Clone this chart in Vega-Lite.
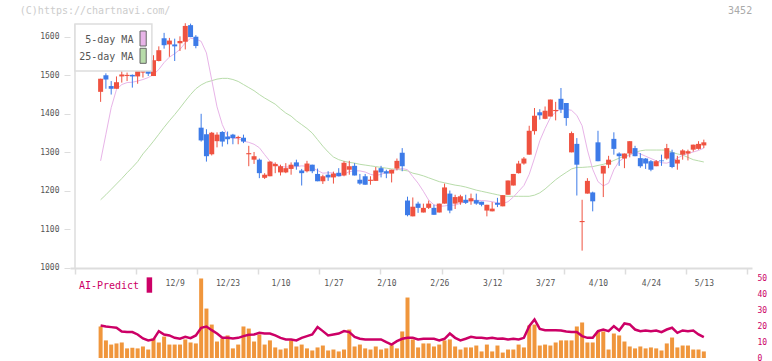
{
"$schema":"https://vega.github.io/schema/vega-lite/v6.json",
"autosize":"none",
"padding":{"left":70,"top":24,"right":20,"bottom":3},
"width":682,"height":334,
"background":"white",
"config":{"view":{"stroke":null},"font":"DejaVu Sans Mono","axis":{"labelFont":"DejaVu Sans Mono","title":null,"grid":false}},
"datasets":{"d":[
{"i":0,"o":1457,"h":1491,"l":1431,"c":1491,"m5":1278,"m25":1177,"v":19.7,"ai":20.3},
{"i":1,"o":1500,"h":1505,"l":1465,"c":1489,"m5":1347,"m25":1190,"v":11.0,"ai":19.7},
{"i":2,"o":1472,"h":1485,"l":1450,"c":1465,"m5":1416,"m25":1204,"v":8.4,"ai":19.3},
{"i":3,"o":1465,"h":1497,"l":1465,"c":1482,"m5":1463,"m25":1218,"v":9.1,"ai":18.9},
{"i":4,"o":1497,"h":1519,"l":1481,"c":1502,"m5":1476,"m25":1232,"v":9.7,"ai":16.6},
{"i":5,"o":1498,"h":1507,"l":1485,"c":1501,"m5":1481,"m25":1247,"v":6.0,"ai":16.2},
{"i":6,"o":1501,"h":1502,"l":1468,"c":1497,"m5":1482,"m25":1261,"v":6.4,"ai":16.2},
{"i":7,"o":1497,"h":1519,"l":1478,"c":1511,"m5":1485,"m25":1276,"v":6.0,"ai":14.7},
{"i":8,"o":1507,"h":1530,"l":1494,"c":1518,"m5":1489,"m25":1296,"v":7.2,"ai":12.2},
{"i":9,"o":1515,"h":1523,"l":1498,"c":1504,"m5":1494,"m25":1312,"v":5.3,"ai":11.0},
{"i":10,"o":1498,"h":1552,"l":1498,"c":1539,"m5":1502,"m25":1329,"v":12.2,"ai":11.6},
{"i":11,"o":1537,"h":1575,"l":1536,"c":1565,"m5":1515,"m25":1347,"v":9.7,"ai":16.8},
{"i":12,"o":1596,"h":1610,"l":1569,"c":1578,"m5":1533,"m25":1365,"v":13.4,"ai":14.7},
{"i":13,"o":1580,"h":1597,"l":1548,"c":1590,"m5":1547,"m25":1382,"v":8.4,"ai":14.1},
{"i":14,"o":1580,"h":1595,"l":1537,"c":1575,"m5":1556,"m25":1398,"v":8.4,"ai":12.6},
{"i":15,"o":1583,"h":1601,"l":1563,"c":1589,"m5":1567,"m25":1415,"v":8.4,"ai":12.0},
{"i":16,"o":1587,"h":1635,"l":1567,"c":1628,"m5":1584,"m25":1433,"v":11.6,"ai":13.2},
{"i":17,"o":1630,"h":1634,"l":1599,"c":1599,"m5":1596,"m25":1450,"v":9.7,"ai":12.4},
{"i":18,"o":1600,"h":1604,"l":1570,"c":1576,"m5":1594,"m25":1465,"v":9.1,"ai":14.1},
{"i":19,"o":1364,"h":1400,"l":1328,"c":1331,"m5":1588,"m25":1475,"v":49.7,"ai":18.9},
{"i":20,"o":1347,"h":1360,"l":1276,"c":1290,"m5":1558,"m25":1482,"v":30.9,"ai":19.7},
{"i":21,"o":1295,"h":1353,"l":1292,"c":1351,"m5":1488,"m25":1486,"v":20.9,"ai":17.4},
{"i":22,"o":1329,"h":1352,"l":1313,"c":1346,"m5":1418,"m25":1490,"v":10.3,"ai":15.3},
{"i":23,"o":1353,"h":1355,"l":1315,"c":1328,"m5":1372,"m25":1492,"v":12.2,"ai":12.6},
{"i":24,"o":1341,"h":1354,"l":1321,"c":1334,"m5":1342,"m25":1492,"v":14.1,"ai":12.6},
{"i":25,"o":1346,"h":1348,"l":1321,"c":1337,"m5":1336,"m25":1489,"v":6.0,"ai":12.2},
{"i":26,"o":1337,"h":1343,"l":1321,"c":1340,"m5":1336,"m25":1484,"v":8.4,"ai":12.6},
{"i":27,"o":1338,"h":1346,"l":1324,"c":1328,"m5":1329,"m25":1476,"v":19.7,"ai":13.7},
{"i":28,"o":1295,"h":1317,"l":1264,"c":1298,"m5":1326,"m25":1468,"v":18.4,"ai":14.5},
{"i":29,"o":1281,"h":1301,"l":1270,"c":1290,"m5":1321,"m25":1460,"v":10.3,"ai":14.7},
{"i":30,"o":1281,"h":1284,"l":1233,"c":1246,"m5":1312,"m25":1450,"v":14.7,"ai":15.7},
{"i":31,"o":1234,"h":1246,"l":1231,"c":1242,"m5":1294,"m25":1441,"v":8.4,"ai":15.3},
{"i":32,"o":1238,"h":1277,"l":1238,"c":1276,"m5":1277,"m25":1433,"v":11.0,"ai":15.3},
{"i":33,"o":1264,"h":1274,"l":1246,"c":1270,"m5":1268,"m25":1425,"v":6.6,"ai":14.1},
{"i":34,"o":1248,"h":1268,"l":1240,"c":1264,"m5":1263,"m25":1413,"v":5.3,"ai":12.6},
{"i":35,"o":1248,"h":1272,"l":1246,"c":1259,"m5":1262,"m25":1402,"v":6.0,"ai":11.6},
{"i":36,"o":1257,"h":1274,"l":1242,"c":1268,"m5":1262,"m25":1394,"v":11.0,"ai":11.6},
{"i":37,"o":1274,"h":1281,"l":1255,"c":1264,"m5":1263,"m25":1382,"v":7.2,"ai":11.0},
{"i":38,"o":1253,"h":1257,"l":1214,"c":1246,"m5":1265,"m25":1372,"v":8.4,"ai":12.6},
{"i":39,"o":1251,"h":1278,"l":1248,"c":1271,"m5":1264,"m25":1362,"v":6.0,"ai":13.7},
{"i":40,"o":1268,"h":1268,"l":1246,"c":1251,"m5":1260,"m25":1350,"v":4.7,"ai":14.7},
{"i":41,"o":1244,"h":1258,"l":1225,"c":1225,"m5":1253,"m25":1333,"v":6.6,"ai":19.3},
{"i":42,"o":1225,"h":1242,"l":1218,"c":1238,"m5":1246,"m25":1316,"v":7.8,"ai":16.8},
{"i":43,"o":1242,"h":1251,"l":1226,"c":1235,"m5":1247,"m25":1301,"v":4.7,"ai":14.1},
{"i":44,"o":1235,"h":1250,"l":1219,"c":1245,"m5":1247,"m25":1288,"v":5.3,"ai":14.7},
{"i":45,"o":1247,"h":1259,"l":1238,"c":1238,"m5":1238,"m25":1281,"v":4.1,"ai":15.3},
{"i":46,"o":1240,"h":1277,"l":1238,"c":1273,"m5":1243,"m25":1277,"v":5.3,"ai":16.8},
{"i":47,"o":1255,"h":1278,"l":1242,"c":1264,"m5":1250,"m25":1274,"v":17.8,"ai":16.2},
{"i":48,"o":1265,"h":1272,"l":1240,"c":1240,"m5":1252,"m25":1272,"v":7.2,"ai":13.2},
{"i":49,"o":1229,"h":1244,"l":1216,"c":1219,"m5":1252,"m25":1269,"v":8.4,"ai":12.0},
{"i":50,"o":1238,"h":1244,"l":1216,"c":1216,"m5":1249,"m25":1267,"v":6.0,"ai":11.6},
{"i":51,"o":1226,"h":1238,"l":1216,"c":1229,"m5":1243,"m25":1265,"v":5.3,"ai":11.6},
{"i":52,"o":1226,"h":1262,"l":1226,"c":1253,"m5":1240,"m25":1263,"v":7.2,"ai":11.6},
{"i":53,"o":1259,"h":1265,"l":1235,"c":1248,"m5":1243,"m25":1261,"v":5.3,"ai":11.6},
{"i":54,"o":1251,"h":1255,"l":1233,"c":1245,"m5":1248,"m25":1259,"v":6.0,"ai":9.9},
{"i":55,"o":1245,"h":1255,"l":1222,"c":1255,"m5":1252,"m25":1257,"v":8.0,"ai":8.4},
{"i":56,"o":1258,"h":1284,"l":1253,"c":1278,"m5":1256,"m25":1256,"v":6.0,"ai":10.5},
{"i":57,"o":1299,"h":1311,"l":1251,"c":1264,"m5":1258,"m25":1254,"v":16.6,"ai":12.0},
{"i":58,"o":1175,"h":1185,"l":1134,"c":1137,"m5":1255,"m25":1252,"v":37.8,"ai":12.6},
{"i":59,"o":1134,"h":1183,"l":1134,"c":1159,"m5":1237,"m25":1246,"v":11.6,"ai":12.6},
{"i":60,"o":1167,"h":1172,"l":1143,"c":1156,"m5":1220,"m25":1243,"v":6.6,"ai":11.6},
{"i":61,"o":1144,"h":1167,"l":1144,"c":1156,"m5":1199,"m25":1239,"v":9.1,"ai":12.0},
{"i":62,"o":1156,"h":1175,"l":1153,"c":1167,"m5":1176,"m25":1234,"v":9.1,"ai":12.0},
{"i":63,"o":1156,"h":1164,"l":1138,"c":1138,"m5":1164,"m25":1229,"v":7.2,"ai":12.0},
{"i":64,"o":1144,"h":1167,"l":1144,"c":1167,"m5":1160,"m25":1224,"v":8.4,"ai":11.0},
{"i":65,"o":1167,"h":1219,"l":1167,"c":1209,"m5":1161,"m25":1221,"v":11.0,"ai":12.0},
{"i":66,"o":1193,"h":1201,"l":1142,"c":1149,"m5":1163,"m25":1218,"v":11.6,"ai":15.3},
{"i":67,"o":1167,"h":1190,"l":1153,"c":1184,"m5":1163,"m25":1215,"v":7.2,"ai":12.6},
{"i":68,"o":1170,"h":1190,"l":1164,"c":1186,"m5":1168,"m25":1213,"v":5.3,"ai":11.0},
{"i":69,"o":1177,"h":1190,"l":1166,"c":1169,"m5":1172,"m25":1210,"v":6.6,"ai":12.0},
{"i":70,"o":1173,"h":1193,"l":1164,"c":1181,"m5":1175,"m25":1206,"v":6.6,"ai":13.2},
{"i":71,"o":1176,"h":1193,"l":1164,"c":1167,"m5":1176,"m25":1202,"v":7.8,"ai":12.6},
{"i":72,"o":1172,"h":1172,"l":1160,"c":1164,"m5":1175,"m25":1199,"v":4.1,"ai":12.6},
{"i":73,"o":1149,"h":1164,"l":1134,"c":1164,"m5":1174,"m25":1196,"v":8.4,"ai":12.2},
{"i":74,"o":1147,"h":1171,"l":1147,"c":1154,"m5":1172,"m25":1193,"v":4.1,"ai":12.6},
{"i":75,"o":1169,"h":1182,"l":1158,"c":1164,"m5":1169,"m25":1190,"v":7.8,"ai":12.0},
{"i":76,"o":1160,"h":1189,"l":1160,"c":1189,"m5":1167,"m25":1187,"v":3.4,"ai":12.2},
{"i":77,"o":1190,"h":1227,"l":1190,"c":1227,"m5":1172,"m25":1186,"v":5.3,"ai":11.6},
{"i":78,"o":1214,"h":1244,"l":1214,"c":1244,"m5":1184,"m25":1186,"v":5.3,"ai":12.0},
{"i":79,"o":1246,"h":1278,"l":1245,"c":1271,"m5":1199,"m25":1186,"v":8.4,"ai":11.6},
{"i":80,"o":1271,"h":1288,"l":1268,"c":1284,"m5":1214,"m25":1186,"v":6.6,"ai":12.6},
{"i":81,"o":1294,"h":1369,"l":1294,"c":1356,"m5":1243,"m25":1186,"v":20.3,"ai":19.9},
{"i":82,"o":1355,"h":1415,"l":1346,"c":1395,"m5":1285,"m25":1189,"v":20.9,"ai":24.1},
{"i":83,"o":1404,"h":1412,"l":1385,"c":1396,"m5":1330,"m25":1195,"v":7.8,"ai":18.2},
{"i":84,"o":1387,"h":1419,"l":1386,"c":1408,"m5":1362,"m25":1205,"v":8.4,"ai":17.4},
{"i":85,"o":1393,"h":1437,"l":1393,"c":1437,"m5":1390,"m25":1217,"v":7.8,"ai":17.4},
{"i":86,"o":1407,"h":1431,"l":1383,"c":1410,"m5":1405,"m25":1229,"v":9.7,"ai":17.4},
{"i":87,"o":1439,"h":1467,"l":1402,"c":1411,"m5":1412,"m25":1239,"v":11.0,"ai":17.2},
{"i":88,"o":1428,"h":1428,"l":1369,"c":1389,"m5":1412,"m25":1248,"v":11.0,"ai":16.6},
{"i":89,"o":1300,"h":1354,"l":1300,"c":1350,"m5":1409,"m25":1257,"v":11.0,"ai":16.2},
{"i":90,"o":1322,"h":1337,"l":1188,"c":1268,"m5":1396,"m25":1261,"v":19.7,"ai":16.2},
{"i":91,"o":1119,"h":1177,"l":1045,"c":1122,"m5":1369,"m25":1261,"v":22.2,"ai":13.7},
{"i":92,"o":1193,"h":1233,"l":1193,"c":1226,"m5":1306,"m25":1262,"v":9.7,"ai":12.6},
{"i":93,"o":1196,"h":1198,"l":1147,"c":1173,"m5":1256,"m25":1263,"v":9.7,"ai":12.6},
{"i":94,"o":1326,"h":1356,"l":1277,"c":1277,"m5":1224,"m25":1266,"v":16.6,"ai":16.8},
{"i":95,"o":1245,"h":1265,"l":1184,"c":1265,"m5":1213,"m25":1269,"v":16.6,"ai":17.8},
{"i":96,"o":1268,"h":1291,"l":1259,"c":1281,"m5":1220,"m25":1273,"v":5.3,"ai":16.8},
{"i":97,"o":1335,"h":1352,"l":1294,"c":1309,"m5":1255,"m25":1279,"v":15.3,"ai":19.9},
{"i":98,"o":1297,"h":1300,"l":1265,"c":1290,"m5":1277,"m25":1285,"v":14.1,"ai":17.2},
{"i":99,"o":1284,"h":1297,"l":1259,"c":1297,"m5":1286,"m25":1290,"v":10.3,"ai":21.6},
{"i":100,"o":1297,"h":1329,"l":1287,"c":1329,"m5":1293,"m25":1294,"v":7.2,"ai":21.0},
{"i":101,"o":1311,"h":1317,"l":1290,"c":1290,"m5":1302,"m25":1300,"v":6.0,"ai":17.8},
{"i":102,"o":1285,"h":1298,"l":1260,"c":1264,"m5":1296,"m25":1304,"v":7.2,"ai":16.8},
{"i":103,"o":1284,"h":1285,"l":1257,"c":1271,"m5":1290,"m25":1306,"v":6.0,"ai":17.2},
{"i":104,"o":1277,"h":1280,"l":1251,"c":1255,"m5":1284,"m25":1306,"v":6.6,"ai":16.8},
{"i":105,"o":1264,"h":1280,"l":1264,"c":1277,"m5":1278,"m25":1306,"v":6.0,"ai":17.2},
{"i":106,"o":1279,"h":1294,"l":1265,"c":1277,"m5":1273,"m25":1306,"v":4.7,"ai":16.2},
{"i":107,"o":1284,"h":1322,"l":1281,"c":1311,"m5":1272,"m25":1306,"v":9.1,"ai":17.8},
{"i":108,"o":1300,"h":1307,"l":1259,"c":1262,"m5":1277,"m25":1300,"v":12.8,"ai":18.9},
{"i":109,"o":1271,"h":1291,"l":1255,"c":1281,"m5":1285,"m25":1296,"v":6.6,"ai":15.7},
{"i":110,"o":1294,"h":1308,"l":1281,"c":1305,"m5":1292,"m25":1293,"v":7.8,"ai":17.2},
{"i":111,"o":1297,"h":1307,"l":1279,"c":1303,"m5":1297,"m25":1287,"v":7.8,"ai":16.8},
{"i":112,"o":1307,"h":1320,"l":1302,"c":1320,"m5":1301,"m25":1281,"v":5.3,"ai":17.2},
{"i":113,"o":1309,"h":1329,"l":1307,"c":1322,"m5":1305,"m25":1278,"v":5.3,"ai":14.7},
{"i":114,"o":1318,"h":1333,"l":1311,"c":1326,"m5":1311,"m25":1275,"v":4.1,"ai":13.0}
]},
"resolve":{"scale":{"y":"independent"},"axis":{"x":"independent","y":"independent"}},
"layer":[
{
"data":{"name":"d"},
"layer":[
{"mark":{"type":"line","color":"#b8dcaa","strokeWidth":1},
 "encoding":{"x":{"field":"i","type":"quantitative","scale":{"domain":[-4.84,122.16],"nice":false,"zero":false},
   "axis":{"orient":"bottom","offset":-90,"values":[-4.84,6.71,18.25,29.8,41.35,52.89,64.44,75.98,87.53,99.07,110.62,122.16],"labels":false,"domainColor":"#dddddd","domainWidth":2,"tickColor":"#dddddd","tickWidth":1.5,"tickSize":6}},
  "y":{"field":"m25","type":"quantitative","scale":{"domain":[766.5,1633],"nice":false,"zero":false},
   "axis":{"orient":"left","values":[1000,1100,1200,1300,1400,1500,1600],"format":"d","domain":false,"tickColor":"#dddddd","tickSize":6,"labelColor":"#555555","labelFontSize":8,"labelPadding":5}}}},
{"mark":{"type":"line","color":"#e8b4e8","strokeWidth":1},
 "encoding":{"x":{"field":"i","type":"quantitative"},"y":{"field":"m5","type":"quantitative"}}},
{"mark":{"type":"rule","strokeWidth":1},
 "encoding":{"x":{"field":"i","type":"quantitative"},
  "y":{"field":"l","type":"quantitative"},"y2":{"field":"h"},
  "color":{"condition":{"test":"datum.c >= datum.o","value":"#ef5240"},"value":"#3d7be8"}}},
{"mark":{"type":"bar","width":5,"orient":"vertical"},
 "encoding":{"x":{"field":"i","type":"quantitative"},
  "y":{"field":"o","type":"quantitative"},"y2":{"field":"c"},
  "color":{"condition":{"test":"datum.c >= datum.o","value":"#ef5240"},"value":"#3d7be8"}}},
{"data":{"values":[{}]},"mark":{"type":"rule","color":"#dddddd","strokeWidth":1.5},
 "encoding":{"x":{"datum":-4.84,"type":"quantitative"},"y":{"datum":1000,"type":"quantitative"},"y2":{"datum":1633}}},
{"data":{"values":[{}]},"mark":{"type":"rect","fill":"white","stroke":"#dddddd","strokeWidth":1.5},
 "encoding":{"x":{"datum":-4.84,"type":"quantitative"},"x2":{"datum":9.69},"y":{"datum":1633,"type":"quantitative"},"y2":{"datum":1511}}},
{"data":{"values":[{"t":"5-day MA"}]},"mark":{"type":"text","align":"right","baseline":"middle","fontSize":10,"color":"#555555","font":"DejaVu Sans Mono"},
 "encoding":{"x":{"datum":6.2,"type":"quantitative"},"y":{"datum":1591.5,"type":"quantitative"},"text":{"field":"t"}}},
{"data":{"values":[{"t":"25-day MA"}]},"mark":{"type":"text","align":"right","baseline":"middle","fontSize":10,"color":"#555555","font":"DejaVu Sans Mono"},
 "encoding":{"x":{"datum":6.2,"type":"quantitative"},"y":{"datum":1548.2,"type":"quantitative"},"text":{"field":"t"}}},
{"data":{"values":[{}]},"mark":{"type":"rect","fill":"#e8b4e8","stroke":"#666666","strokeWidth":1},
 "encoding":{"x":{"datum":7.45,"type":"quantitative"},"x2":{"datum":8.62},"y":{"datum":1614.8,"type":"quantitative"},"y2":{"datum":1575.9}}},
{"data":{"values":[{}]},"mark":{"type":"rect","fill":"#b8dcaa","stroke":"#666666","strokeWidth":1},
 "encoding":{"x":{"datum":7.45,"type":"quantitative"},"x2":{"datum":8.62},"y":{"datum":1570,"type":"quantitative"},"y2":{"datum":1531}}},
{"data":{"values":[{"t":"(C)https://chartnavi.com/"}]},"mark":{"type":"text","align":"left","baseline":"middle","fontSize":10,"color":"#cccccc","font":"DejaVu Sans Mono"},
 "encoding":{"x":{"datum":-15.27,"type":"quantitative"},"y":{"datum":1666.7,"type":"quantitative"},"text":{"field":"t"}}},
{"data":{"values":[{"t":"3452"}]},"mark":{"type":"text","align":"center","baseline":"middle","fontSize":10,"color":"#aaaaaa","font":"DejaVu Sans Mono"},
 "encoding":{"x":{"datum":120.86,"type":"quantitative"},"y":{"datum":1666.7,"type":"quantitative"},"text":{"field":"t"}}}
]
},
{
"data":{"name":"d"},
"layer":[
{"mark":{"type":"bar","width":4,"orient":"vertical","color":"#f0963c"},
 "encoding":{"x":{"field":"i","type":"quantitative",
   "axis":{"orient":"bottom","offset":-90,"values":[14,24,34,44,54,64,74,84,94,104,114],"labelExpr":"['12/9','12/23','1/10','1/27','2/10','2/26','3/12','3/27','4/10','4/24','5/13'][round((datum.value-14)/10)]","ticks":false,"tickSize":0,"domain":false,"labelColor":"#555555","labelFontSize":8,"labelPadding":11}},
  "y":{"field":"v","type":"quantitative","scale":{"domain":[0,208.75],"nice":false,"zero":true},
   "axis":{"orient":"right","values":[0,10,20,30,40,50],"domain":false,"ticks":false,"tickSize":0,"labelColor":"#cc0066","labelFontSize":8,"labelPadding":5}}}},
{"mark":{"type":"line","color":"#cc0066","strokeWidth":2.5},
 "encoding":{"x":{"field":"i","type":"quantitative"},"y":{"field":"ai","type":"quantitative"}}},
{"data":{"values":[{"t":"AI-Predict"}]},"mark":{"type":"text","align":"left","baseline":"middle","fontSize":10,"color":"#cc0066","font":"DejaVu Sans Mono"},
 "encoding":{"x":{"datum":-4.1,"type":"quantitative"},"y":{"datum":45,"type":"quantitative"},"text":{"field":"t"}}},
{"data":{"values":[{}]},"mark":{"type":"rect","fill":"#cc0066"},
 "encoding":{"x":{"datum":8.7,"type":"quantitative"},"x2":{"datum":9.74},"y":{"datum":50.4,"type":"quantitative"},"y2":{"datum":40.8}}}
]
}
]
}
